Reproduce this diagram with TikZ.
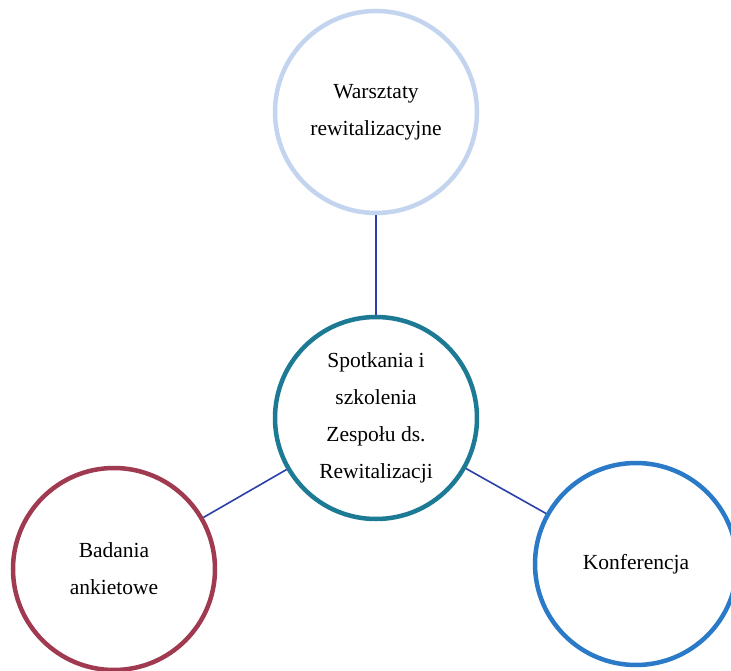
\documentclass[tikz,border=0pt]{standalone}
\usepackage{fontspec}
\setmainfont{Liberation Serif}
\definecolor{paleblue}{HTML}{C3D4EE}
\definecolor{teal}{HTML}{1C7A94}
\definecolor{wine}{HTML}{A03A50}
\definecolor{midblue}{HTML}{2A7AC8}
\definecolor{linkblue}{HTML}{2A3FA8}
\tikzset{
	bubble/.style={circle, draw, line width=4.5pt, minimum size=202pt, align=center, inner sep=0pt,
		font=\fontsize{21.5}{37}\selectfont},
	link/.style={linkblue, line width=1.6pt}
}
\begin{document}
\begin{tikzpicture}[x=1pt, y=-1pt]
			\useasboundingbox (0,0) rectangle (731,671);
			\node [bubble, paleblue, text=black] (warsztaty) at (376,112) {Warsztaty\\rewitalizacyjne};
			\node [bubble, teal, text=black] (spotkania) at (376,418) {Spotkania i\\szkolenia\\Zespołu ds.\\Rewitalizacji};
			\node [bubble, wine, text=black] (badania) at (114,569) {Badania\\ankietowe};
			\node [bubble, midblue, text=black] (konferencja) at (636,564) {Konferencja};

			\foreach \n in {warsztaty, badania, konferencja} {
				\draw [link] (spotkania) -- (\n);
			}
		\end{tikzpicture}
\end{document}
